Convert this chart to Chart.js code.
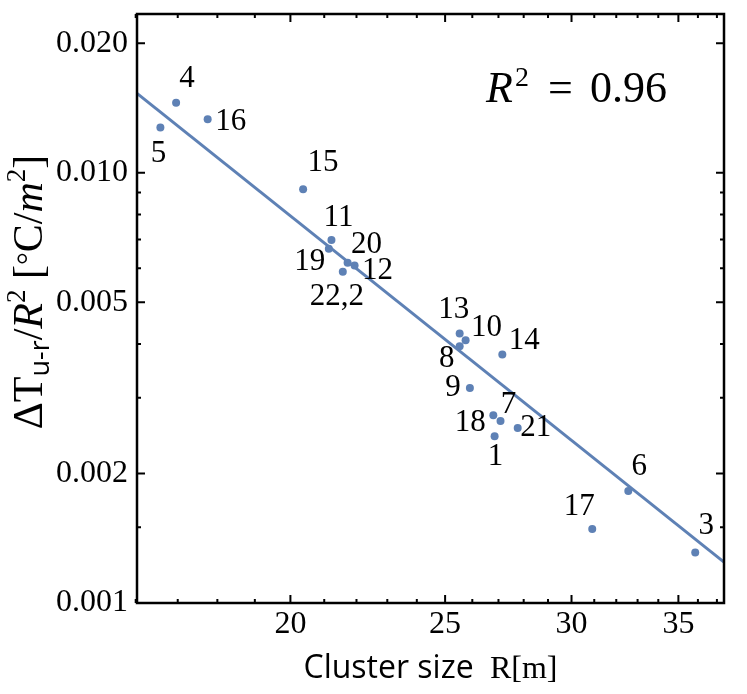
<!DOCTYPE html>
<html>
<head>
<meta charset="utf-8">
<script src="https://cdn.jsdelivr.net/npm/chart.js@4.4.1/dist/chart.umd.min.js"></script>
<style>
  body { margin: 0; background: #fff; }
  #c { display: block; }
</style>
</head>
<body>
<canvas id="c" width="747" height="694"></canvas>
<script>
// cluster ids (label next to each point)
const clusterIds = ['4', '5', '16', '15', '11', '19', '20', '12', '22,2', '13', '10', '8', '14', '9', '18', '7', '21', '1', '6', '17', '3'];
// cluster size R [m]
const clusterSize = [16.96, 16.58, 17.75, 20.37, 21.22, 21.14, 21.72, 21.94, 21.57, 25.53, 25.75, 25.53, 27.15, 25.91, 26.80, 27.08, 27.76, 26.85, 32.56, 30.91, 35.86];
// dT(u-r) / R^2 [degC/m^2]
const tempPerArea = [0.01455, 0.01275, 0.01333, 0.00916, 0.00698, 0.00666, 0.00618, 0.00609, 0.00589, 0.00423, 0.00408, 0.00395, 0.00378, 0.00316, 0.00273, 0.00265, 0.00255, 0.00244, 0.00182, 0.001486, 0.00131];

// power-law fit, end points
const fitSize = [16.03, 37.38];
const fitValue = [0.0153, 0.001245];
const rSquared = '0.96';

const xTicks = [20, 25, 30, 35];
const xMinorTicks = [16, 17, 18, 19, 21, 22, 23, 24, 26, 27, 28, 29, 31, 32, 33, 34, 36, 37];
const yTicks = [0.001, 0.002, 0.005, 0.01, 0.02];
const yMinorTicks = [0.0015, 0.003, 0.004, 0.006, 0.007, 0.008, 0.009];

const BLUE = '#5E81B5';
const SERIF = '"Liberation Serif", "DejaVu Serif", serif';
const SANS = '"Open Sans", "Noto Sans", sans-serif';

// label offsets from the point, px
const labelOffset = {
  '4': [11, -24], '5': [-2, 26], '16': [23, 3], '15': [20, -26],
  '11': [7, -22], '19': [-19, 13], '20': [19, -18], '12': [23, 5], '22,2': [-6, 25],
  '13': [-6, -24], '10': [21, -12], '8': [-13, 12], '14': [22, -14], '9': [-17, 0],
  '18': [-23, 7], '7': [8, -16], '21': [18, 0], '1': [1, 21],
  '6': [11, -24], '17': [-13, -22], '3': [11, -27]
};

// draw a run of [text, font, baselineShift] pieces, centred on x
function drawRuns(ctx, runs, cx, y) {
  let total = 0;
  runs.forEach(r => { ctx.font = r[1]; total += ctx.measureText(r[0]).width; });
  let x = cx - total / 2;
  runs.forEach(r => {
    ctx.font = r[1];
    ctx.fillText(r[0], x, y + (r[2] || 0));
    x += ctx.measureText(r[0]).width;
  });
}

const framePlugin = {
  id: 'frame',
  afterDatasetsDraw(chart) {
    const ctx = chart.ctx;
    const a = chart.chartArea;
    const xs = chart.scales.x, ys = chart.scales.y;
    ctx.save();
    ctx.strokeStyle = '#000';

    // ticks, inward on all four sides
    ctx.lineWidth = 2;
    const tick = (v, len, axis) => {
      ctx.beginPath();
      if (axis === 'x') {
        const p = xs.getPixelForValue(v);
        ctx.moveTo(p, a.bottom); ctx.lineTo(p, a.bottom - len);
        ctx.moveTo(p, a.top); ctx.lineTo(p, a.top + len);
      } else {
        const p = ys.getPixelForValue(v);
        ctx.moveTo(a.left, p); ctx.lineTo(a.left + len, p);
        ctx.moveTo(a.right, p); ctx.lineTo(a.right - len, p);
      }
      ctx.stroke();
    };
    xTicks.forEach(v => tick(v, 8, 'x'));
    xMinorTicks.forEach(v => tick(v, 4, 'x'));
    yTicks.forEach(v => tick(v, 8, 'y'));
    yMinorTicks.forEach(v => tick(v, 4, 'y'));

    ctx.lineWidth = 2.5;
    ctx.strokeRect(a.left, a.top, a.right - a.left, a.bottom - a.top);

    // point labels
    ctx.fillStyle = '#000';
    ctx.font = '31px ' + SERIF;
    ctx.textAlign = 'center';
    ctx.textBaseline = 'middle';
    const meta = chart.getDatasetMeta(1);
    meta.data.forEach((pt, i) => {
      const off = labelOffset[clusterIds[i]] || [12, -16];
      ctx.fillText(clusterIds[i], pt.x + off[0], pt.y + off[1]);
    });

    // R^2 annotation
    ctx.textAlign = 'left';
    ctx.textBaseline = 'alphabetic';
    const ry = a.top + 88;
    ctx.font = 'italic 44px ' + SERIF;
    ctx.fillText('R', a.right - 238, ry);
    ctx.font = '28px ' + SERIF;
    ctx.fillText('2', a.right - 209, ry - 16);
    ctx.font = '44px ' + SERIF;
    ctx.fillText('=', a.right - 176, ry);
    ctx.fillText(rSquared, a.right - 134, ry);

    // x axis title
    drawRuns(ctx, [
      ['Cluster size ', '32px ' + SANS, 0],
      [' R[m]', '32px ' + SERIF, 0]
    ], (a.left + a.right) / 2, 678);

    // y axis title, rotated
    ctx.translate(42, 292);
    ctx.rotate(-Math.PI / 2);
    drawRuns(ctx, [
      ['\u0394T', '42px ' + SERIF, 0],
      ['u-r', '27px ' + SANS, 7],
      ['/', '42px ' + SERIF, 0],
      ['R', 'italic 42px ' + SERIF, 0],
      ['2', '27px ' + SERIF, -17],
      [' [', '42px ' + SERIF, 0],
      ['\u00B0', '32px ' + SERIF, -3],
      ['C/', '42px ' + SERIF, 0],
      ['m', 'italic 42px ' + SERIF, 0],
      ['2', '27px ' + SERIF, -17],
      [']', '42px ' + SERIF, 0]
    ], 0, 0);
    ctx.restore();
  }
};

new Chart(document.getElementById('c'), {
  type: 'scatter',
  data: {
    datasets: [
      {
        type: 'line',
        data: fitSize.map((v, i) => ({ x: v, y: fitValue[i] })),
        borderColor: BLUE,
        borderWidth: 3,
        pointRadius: 0,
        fill: false
      },
      {
        data: clusterSize.map((v, i) => ({ x: v, y: tempPerArea[i] })),
        backgroundColor: BLUE,
        borderWidth: 0,
        pointRadius: 4
      }
    ]
  },
  options: {
    responsive: false,
    animation: false,
    layout: { padding: { top: 14, right: 23 } },
    plugins: { legend: { display: false }, tooltip: { enabled: false } },
    scales: {
      x: {
        type: 'logarithmic',
        min: 16.03,
        max: 37.38,
        grid: { display: false, drawTicks: false },
        border: { display: false },
        afterBuildTicks: s => { s.ticks = xTicks.map(v => ({ value: v })); },
        afterFit: s => { s.height = 91; s.paddingLeft = 0; s.paddingRight = 0; },
        ticks: {
          autoSkip: false, maxRotation: 0, padding: 2, color: '#000',
          font: { family: SERIF, size: 32 },
          callback: v => String(v)
        }
      },
      y: {
        type: 'logarithmic',
        min: 0.001,
        max: 0.0234,
        grid: { display: false, drawTicks: false },
        border: { display: false },
        afterBuildTicks: s => { s.ticks = yTicks.map(v => ({ value: v })); },
        afterFit: s => { s.width = 137; s.paddingTop = 0; s.paddingBottom = 0; },
        ticks: {
          autoSkip: false, padding: 9, color: '#000',
          font: { family: SERIF, size: 32 },
          callback: v => Number(v).toFixed(3)
        }
      }
    }
  },
  plugins: [framePlugin]
});
</script>
</body>
</html>
